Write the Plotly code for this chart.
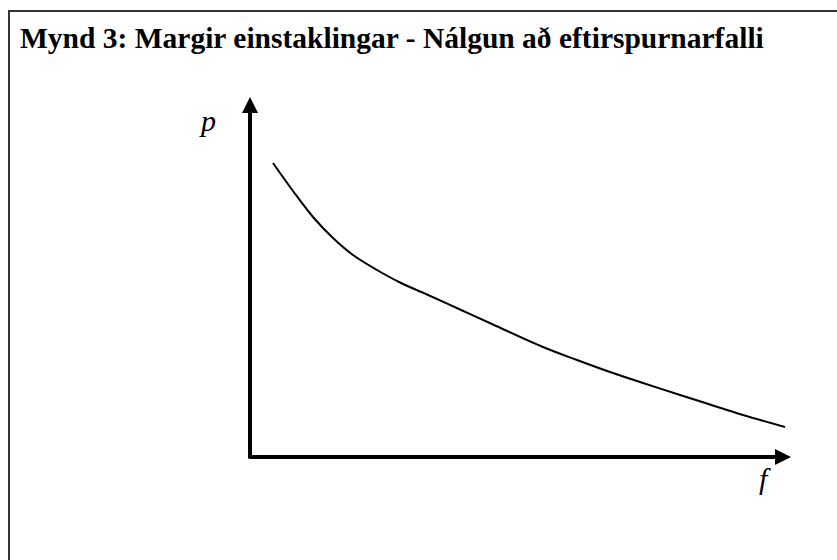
import plotly.graph_objects as go

# Demand curve approximation: quantity f vs price p (arbitrary units)
f_vals = [0.23, 0.43, 0.63, 0.83, 1.03, 1.27, 1.50, 1.77, 2.10, 2.43,
          2.93, 3.27, 3.60, 3.93, 4.27, 4.60, 4.93, 5.35]
p_vals = [2.94, 2.66, 2.40, 2.19, 2.02, 1.87, 1.745, 1.625, 1.475, 1.325,
          1.10, 0.97, 0.85, 0.74, 0.63, 0.525, 0.42, 0.30]

# Axis extents (arrow tips) in data units
f_axis_end = 5.41
p_axis_end = 3.60

title_text = "Mynd 3: Margir einstaklingar - Nálgun að eftirspurnarfalli"
x_label = "f"
y_label = "p"

serif = "Times New Roman, Liberation Serif, serif"

fig = go.Figure()
fig.add_trace(go.Scatter(
    x=f_vals, y=p_vals, mode="lines",
    line=dict(color="black", width=2, shape="spline", smoothing=1.0),
    hoverinfo="skip", showlegend=False,
))

# Axes drawn as arrows from the origin
fig.add_annotation(x=0, y=p_axis_end, ax=0, ay=-0.03, xref="x", yref="y",
                   axref="x", ayref="y", text="", showarrow=True,
                   arrowhead=2, arrowsize=0.8, arrowwidth=4, arrowcolor="black")
fig.add_annotation(x=f_axis_end, y=0, ax=-0.02, ay=0, xref="x", yref="y",
                   axref="x", ayref="y", text="", showarrow=True,
                   arrowhead=2, arrowsize=0.8, arrowwidth=4, arrowcolor="black")

# Axis labels
fig.add_annotation(x=-0.43, y=3.37, xref="x", yref="y", text=f"<i>{y_label}</i>",
                   showarrow=False, font=dict(family=serif, size=30, color="black"))
fig.add_annotation(x=5.15, y=-0.21, xref="x", yref="y", text=f"<i>{x_label}</i>",
                   showarrow=False, font=dict(family=serif, size=30, color="black"))

# Title
fig.add_annotation(x=18 / 837, y=1 - 38 / 560, xref="paper", yref="paper",
                   xanchor="left", yanchor="middle",
                   text=f"<b>{title_text}</b>", showarrow=False,
                   font=dict(family=serif, size=29.5, color="black"))

# Frame (top and left edges)
fig.add_shape(type="path", xref="paper", yref="paper",
              path=f"M {9/837},0 L {9/837},{1-11/560} L 1,{1-11/560}",
              line=dict(color="#333333", width=2))

fig.update_layout(
    width=837, height=560,
    margin=dict(l=0, r=0, t=0, b=0),
    paper_bgcolor="white", plot_bgcolor="white",
    xaxis=dict(range=[-2.50, 5.87], visible=False, fixedrange=True),
    yaxis=dict(range=[-1.03, 4.57], visible=False, fixedrange=True),
)

fig.write_html("out.html")
